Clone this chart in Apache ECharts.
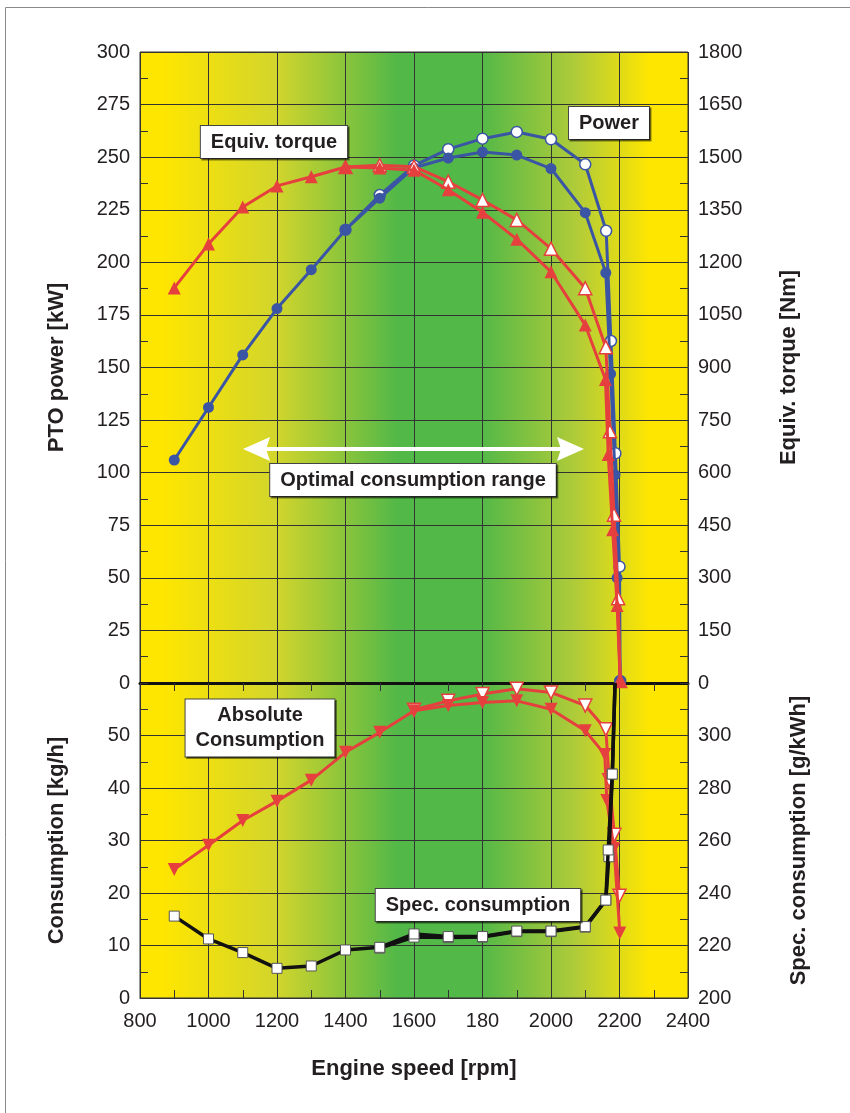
<!DOCTYPE html>
<html>
<head>
<meta charset="utf-8">
<script src="https://cdn.jsdelivr.net/npm/echarts@6/dist/echarts.min.js"></script>
<style>
html,body{margin:0;padding:0;background:#fff;}
#chart{width:850px;height:1113px;}
</style>
</head>
<body>
<div id="chart"></div>
<script>
// ---- data ----
const xTickLabels = ['800','1000','1200','1400','1600','180','2000','2200','2400'];

const powerFullRpm = [900,1000,1100,1200,1300,1400,1500,1600,1700,1800,1900,2000,2100,2160,2174,2187,2193,2202];
const powerFullKw  = [106,131,156,178,196.5,215.5,230.5,245,249.6,252.5,251,244.6,223.6,195,147,99,50,1];

const powerOpenRpm = [1400,1500,1600,1700,1800,1900,2000,2100,2161,2175,2188,2200,2202];
const powerOpenKw  = [215.5,232,246,253.8,258.8,262,258.5,246.6,215,162.6,109.2,55.3,1];

const torqueFullRpm = [900,1000,1100,1200,1300,1400,1500,1600,1700,1800,1900,2000,2100,2159,2167,2180,2193,2202];
const torqueFullNm  = [1127,1252,1358,1418,1444,1472,1469,1463,1407,1343,1266,1173,1021,866,652,437,221,6];

const torqueOpenRpm = [1400,1500,1600,1700,1800,1900,2000,2100,2160,2172,2184,2196,2202];
const torqueOpenNm  = [1472,1477,1473,1430,1378,1321,1239,1126,958,718,480,242,6];

const absFullRpm = [900,1000,1100,1200,1300,1400,1500,1600,1700,1800,1900,2000,2100,2157,2163,2184,2201];
const absFullKgh = [24.5,29.1,33.8,37.5,41.5,46.8,50.6,54.7,55.7,56.3,56.6,55.0,50.9,46.4,37.6,28.5,12.4];

const absOpenRpm = [1600,1700,1800,1900,2000,2100,2160,2170,2185,2200];
const absOpenKgh = [54.9,56.6,57.9,58.9,58.2,55.7,51.2,41.5,31.1,19.5];

const specRpm  = [900,1000,1100,1200,1300,1400,1500,1600,1700,1800,1900,2000,2100,2160,2167,2179,2187];
const specGkwh = [231.2,222.5,217.3,211.3,212.2,218.3,219.3,224.4,223.4,223.4,225.5,225.5,227.2,237.3,256.4,285.3,320];

const spec2Rpm  = [1500,1600,1700,1800,1900,2000,2100,2160,2169,2179,2187];
const spec2Gkwh = [219.0,223.2,223.0,223.2,225.3,225.3,227.0,237.3,253.8,285.3,320];

// ---- helpers ----
const pairs = (xs, ys) => xs.map((x, i) => [x, ys[i]]);
// last point leaves the plot through the top edge: draw the line, not a marker
const pairsOpenEnd = (xs, ys) => xs.map((x, i) => i === xs.length - 1 ? {value: [x, ys[i]], symbol: 'none'} : [x, ys[i]]);
const TXT = '#231F20';
const FONT = 'Liberation Sans';
const BLUE = '#3B55A5';
const RED = '#E5403E';

const bg = {
  type: 'linear', x: 0, y: 0, x2: 1, y2: 0,
  colorStops: [
    {offset: 0, color: '#FFE600'},
    {offset: 0.04, color: '#FFE600'},
    {offset: 0.25, color: '#D2D52C'},
    {offset: 0.47, color: '#52B848'},
    {offset: 0.62, color: '#52B848'},
    {offset: 0.80, color: '#B3CC38'},
    {offset: 0.93, color: '#FFE600'},
    {offset: 1, color: '#FFE600'}
  ]
};

const gridLine = {show: true, lineStyle: {color: '#333', width: 1}};
const tickStyle = {show: true, inside: true, length: 8, lineStyle: {color: '#333', width: 1}};
const minorTick = {show: true, splitNumber: 2, length: 8, lineStyle: {color: '#333', width: 1}};
const labelStyle = {color: TXT, fontFamily: FONT, fontSize: 20};
const nameStyle = {color: TXT, fontFamily: FONT, fontSize: 22, fontWeight: 'bold'};
const plain = (v) => String(v);

function lineSeries(name, data, xi, yi, opts) {
  return Object.assign({
    name, type: 'line', data, xAxisIndex: xi, yAxisIndex: yi,
    animation: false, clip: true
  }, opts);
}

const chart = echarts.init(document.getElementById('chart'));

const option = {
  animation: false,
  backgroundColor: '#fff',
  grid: [
    {left: 140, right: 162, top: 52, bottom: 430, show: true, backgroundColor: bg, borderColor: '#333', borderWidth: 1},
    {left: 140, right: 162, top: 683, bottom: 115, show: true, backgroundColor: bg, borderColor: '#333', borderWidth: 1}
  ],
  xAxis: [
    {gridIndex: 0, type: 'value', min: 800, max: 2400, interval: 200, position: 'top',
      axisLine: {show: true, lineStyle: {color: '#333'}}, axisTick: tickStyle, minorTick: minorTick,
      axisLabel: {show: false}, splitLine: gridLine},
    {gridIndex: 1, type: 'value', min: 800, max: 2400, interval: 200, position: 'bottom',
      axisLine: {show: true, lineStyle: {color: '#333'}}, axisTick: tickStyle, minorTick: minorTick,
      axisLabel: Object.assign({margin: 13, formatter: (v) => xTickLabels[Math.round((v - 800) / 200)] || ''}, labelStyle),
      splitLine: gridLine,
      name: 'Engine speed [rpm]', nameLocation: 'middle', nameGap: 60, nameTextStyle: nameStyle},
    {gridIndex: 0, type: 'value', min: 800, max: 2400, interval: 200, position: 'bottom',
      axisLine: {show: true, lineStyle: {color: '#111', width: 3}}, axisTick: {show: false},
      axisLabel: {show: false}, splitLine: {show: false}}
  ],
  yAxis: [
    {gridIndex: 0, type: 'value', min: 0, max: 300, interval: 25, position: 'left',
      axisLine: {show: false}, axisTick: tickStyle, minorTick: minorTick,
      axisLabel: Object.assign({margin: 10, formatter: plain}, labelStyle), splitLine: gridLine,
      name: 'PTO power [kW]', nameLocation: 'middle', nameRotate: 90, nameGap: 72, nameTextStyle: nameStyle},
    {gridIndex: 0, type: 'value', min: 0, max: 1800, interval: 150, position: 'right',
      axisLine: {show: false}, axisTick: tickStyle, minorTick: minorTick,
      axisLabel: Object.assign({margin: 10, formatter: plain}, labelStyle), splitLine: {show: false},
      name: 'Equiv. torque [Nm]', nameLocation: 'middle', nameRotate: 90, nameGap: 90, nameTextStyle: nameStyle},
    {gridIndex: 1, type: 'value', min: 0, max: 60, interval: 10, position: 'left',
      axisLine: {show: false}, axisTick: tickStyle, minorTick: minorTick,
      axisLabel: Object.assign({margin: 10, formatter: (v) => v >= 60 ? '' : String(v)}, labelStyle), splitLine: gridLine,
      name: 'Consumption [kg/h]', nameLocation: 'middle', nameRotate: 90, nameGap: 72, nameTextStyle: nameStyle},
    {gridIndex: 1, type: 'value', min: 200, max: 320, interval: 20, position: 'right',
      axisLine: {show: false}, axisTick: tickStyle, minorTick: minorTick,
      axisLabel: Object.assign({margin: 10, formatter: (v) => v >= 320 ? '' : String(v)}, labelStyle), splitLine: {show: false},
      name: 'Spec. consumption [g/kWh]', nameLocation: 'middle', nameRotate: 90, nameGap: 100, nameTextStyle: nameStyle}
  ],
  series: [
    lineSeries('Power (open)', pairs(powerOpenRpm, powerOpenKw), 0, 0, {
      symbol: 'circle', symbolSize: 11,
      lineStyle: {color: BLUE, width: 3},
      itemStyle: {color: '#fff', borderColor: BLUE, borderWidth: 1.5}, z: 2}),
    lineSeries('Power', pairs(powerFullRpm, powerFullKw), 0, 0, {
      symbol: 'circle', symbolSize: 11,
      lineStyle: {color: BLUE, width: 3},
      itemStyle: {color: BLUE, borderColor: BLUE, borderWidth: 0}, z: 3}),
    lineSeries('Torque (open)', pairs(torqueOpenRpm, torqueOpenNm), 0, 1, {
      symbol: 'triangle', symbolSize: 13,
      lineStyle: {color: RED, width: 3},
      itemStyle: {color: '#fff', borderColor: RED, borderWidth: 1.5}, z: 4}),
    lineSeries('Torque', pairs(torqueFullRpm, torqueFullNm), 0, 1, {
      symbol: 'triangle', symbolSize: 13,
      lineStyle: {color: RED, width: 3},
      itemStyle: {color: RED}, z: 5}),
    lineSeries('Abs (open)', pairs(absOpenRpm, absOpenKgh), 1, 2, {
      symbol: 'triangle', symbolRotate: 180, symbolSize: 13,
      lineStyle: {color: RED, width: 3},
      itemStyle: {color: '#fff', borderColor: RED, borderWidth: 1.5}, z: 4}),
    lineSeries('Abs', pairs(absFullRpm, absFullKgh), 1, 2, {
      symbol: 'triangle', symbolRotate: 180, symbolSize: 13,
      lineStyle: {color: RED, width: 3},
      itemStyle: {color: RED}, z: 5}),
    lineSeries('Spec 2', pairsOpenEnd(spec2Rpm, spec2Gkwh), 1, 3, {
      symbol: 'rect', symbolSize: 10,
      lineStyle: {color: '#111', width: 3.5},
      itemStyle: {color: '#fff', borderColor: '#555', borderWidth: 1}, z: 6}),
    lineSeries('Spec', pairsOpenEnd(specRpm, specGkwh), 1, 3, {
      symbol: 'rect', symbolSize: 10,
      lineStyle: {color: '#111', width: 3.5},
      itemStyle: {color: '#fff', borderColor: '#555', borderWidth: 1}, z: 7})
  ],
  graphic: [
    {type: 'rect', silent: true, z: 0, shape: {x: 5.5, y: 7.5, width: 900, height: 1200},
      style: {fill: 'none', stroke: '#8a8a8a', lineWidth: 1}},
    // double arrow
    {type: 'line', silent: true, z: 20, shape: {x1: 262, y1: 449, x2: 566, y2: 449},
      style: {stroke: '#fff', lineWidth: 4}},
    {type: 'polygon', silent: true, z: 20, shape: {points: [[243, 449], [270, 437], [266, 449], [270, 461]]},
      style: {fill: '#fff'}},
    {type: 'polygon', silent: true, z: 20, shape: {points: [[584, 449], [557, 437], [561, 449], [557, 461]]},
      style: {fill: '#fff'}}
  ].concat([
    ['Equiv. torque', 274, 142],
    ['Power', 609, 123],
    ['Optimal consumption range', 413, 480],
    ['Absolute\nConsumption', 260, 728],
    ['Spec. consumption', 478, 905]
  ].map(([t, x, y]) => ({
    type: 'text', silent: true, z: 30, x: x, y: y,
    style: {
      text: t, fill: TXT, font: 'bold 20px "Liberation Sans"', align: 'center', verticalAlign: 'middle',
      lineHeight: 25, backgroundColor: '#fff', borderColor: '#444', borderWidth: 1,
      padding: [4, 10, 3, 10], shadowColor: 'rgba(0,0,0,0.45)', shadowOffsetX: 1.5, shadowOffsetY: 1.5, shadowBlur: 0
    }
  })))
};

chart.setOption(option);
</script>
</body>
</html>
